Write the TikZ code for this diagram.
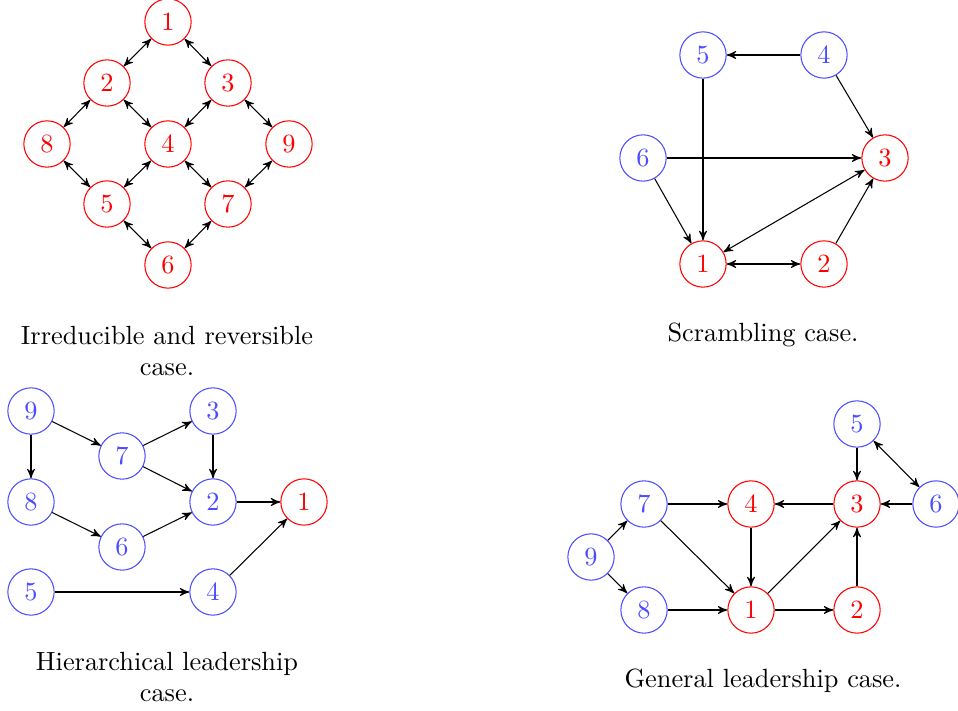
\documentclass[tikz,border=0pt]{standalone}
\usetikzlibrary{arrows}
\begin{document}
\begin{tikzpicture}[x=0.38pt,y=-0.38pt,>=stealth',
  rn/.style={circle,draw=red,text=red,minimum size=17.6pt,inner sep=0pt},
  bn/.style={circle,draw=blue!70,text=blue!70,minimum size=17.6pt,inner sep=0pt},
  ed/.style={->},
  bd/.style={<->},
  cap/.style={align=center,text width=130pt}]
\useasboundingbox (0,0) rectangle (958,711);
% Graph A
\node[rn] (a1) at (168,22) {1};
\node[rn] (a2) at (107,83) {2};
\node[rn] (a3) at (228,83) {3};
\node[rn] (a8) at (47,144) {8};
\node[rn] (a4) at (168,144) {4};
\node[rn] (a9) at (289,144) {9};
\node[rn] (a5) at (107,204) {5};
\node[rn] (a7) at (228,204) {7};
\node[rn] (a6) at (168,265) {6};
\foreach \s/\t in {1/2,1/3,2/8,2/4,3/4,3/9,8/5,4/5,4/7,9/7,5/6,7/6}
  \draw[bd] (a\s) -- (a\t);
\node[align=center] (capa) at (167,351) {Irreducible and reversible\\case.};
% Graph B
\node[bn] (b5) at (703,55) {5};
\node[bn] (b4) at (824,55) {4};
\node[bn] (b6) at (643,158) {6};
\node[rn] (b3) at (885,158) {3};
\node[rn] (b1) at (703,264) {1};
\node[rn] (b2) at (824,264) {2};
\draw[ed] (b4) -- (b5);
\draw[ed] (b4) -- (b3);
\draw[ed] (b5) -- (b1);
\draw[ed] (b6) -- (b3);
\draw[ed] (b6) -- (b1);
\draw[bd] (b1) -- (b3);
\draw[bd] (b1) -- (b2);
\draw[ed] (b2) -- (b3);
\node (capb) at (763,335) {Scrambling case.};
% Graph C
\node[bn] (c9) at (31,411) {9};
\node[bn] (c3) at (213,411) {3};
\node[bn] (c7) at (122,456) {7};
\node[bn] (c8) at (31,502) {8};
\node[bn] (c2) at (213,502) {2};
\node[rn] (c1) at (304,502) {1};
\node[bn] (c6) at (122,547) {6};
\node[bn] (c5) at (31,592) {5};
\node[bn] (c4) at (213,592) {4};
\foreach \s/\t in {9/7,9/8,7/3,7/2,3/2,8/6,6/2,2/1,5/4,4/1}
  \draw[ed] (c\s) -- (c\t);
\node[align=center] (capc) at (167,677) {Hierarchical leadership\\case.};
% Graph D
\node[bn] (d5) at (857,424) {5};
\node[bn] (d7) at (644,504) {7};
\node[rn] (d4) at (751,504) {4};
\node[rn] (d3) at (857,504) {3};
\node[bn] (d6) at (936,504) {6};
\node[bn] (d9) at (591,557) {9};
\node[bn] (d8) at (644,610) {8};
\node[rn] (d1) at (751,610) {1};
\node[rn] (d2) at (857,610) {2};
\draw[bd] (d5) -- (d6);
\foreach \s/\t in {5/3,7/4,3/4,6/3,9/7,9/8,7/1,4/1,1/3,8/1,1/2,2/3}
  \draw[ed] (d\s) -- (d\t);
\node (capd) at (763,681) {General leadership case.};
\end{tikzpicture}
\end{document}
